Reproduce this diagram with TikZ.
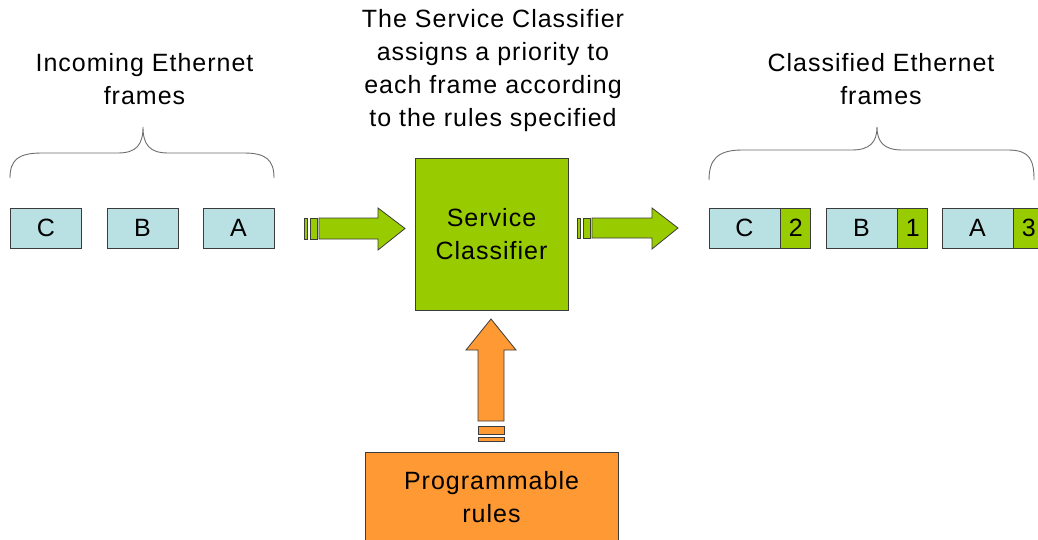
\documentclass[tikz,border=0pt]{standalone}
\usepackage{fontspec}
\setmainfont{Liberation Sans}[LetterSpace=4]
\definecolor{framefill}{HTML}{B9E0E3}
\definecolor{prio}{HTML}{99CC00}
\definecolor{rulesfill}{HTML}{FF9933}
\definecolor{edge}{HTML}{3C3C3C}
\definecolor{bracecol}{HTML}{6E6E6E}
\begin{document}
\begin{tikzpicture}[x=1pt,y=-1pt,
  font=\fontsize{25}{33}\selectfont,
  frame/.style={draw=edge, fill=framefill, line width=0.8pt,
    minimum width=71pt, minimum height=40pt, inner sep=0pt},
  tag/.style={draw=edge, fill=prio, line width=0.8pt,
    minimum width=30pt, minimum height=40pt, inner sep=0pt},
  caption/.style={align=center, inner sep=0pt, anchor=base},
  brace/.style={draw=bracecol, line width=0.9pt},
  greenarrow/.style={draw=edge, fill=prio, line width=0.8pt, line join=miter},
  orangearrow/.style={draw=edge, fill=rulesfill, line width=0.8pt, line join=miter}]

\clip (0,0) rectangle (1038,540);
\fill[white] (0,0) rectangle (1038,540);

% incoming frames
\node[frame] (inC) at (46,228) {C};
\node[frame] (inB) at (142.5,228) {B};
\node[frame] (inA) at (238.5,228) {A};

% classified frames with priority tags
\node[frame] (outC) at (744.5,228) {C};
\node[tag, anchor=west] (tagC) at (outC.east) {2};
\node[frame] (outB) at (861.5,228) {B};
\node[tag, anchor=west] (tagB) at (outB.east) {1};
\node[frame] (outA) at (977.5,228) {A};
\node[tag, anchor=west] (tagA) at (outA.east) {3};

% classifier and rules
\node[draw=edge, fill=prio, line width=0.8pt, align=center,
  minimum width=153pt, minimum height=152pt, inner sep=0pt] (sc) at (491.5,234)
  {Service\\Classifier};
\node[draw=edge, fill=rulesfill, line width=0.8pt, align=center,
  minimum width=253pt, minimum height=90pt, inner sep=0pt] (rules) at (491.5,497)
  {Programmable\\rules};

% captions (anchored at the baseline of their last line)
\node[caption] (capIn) at (144.5,105) {Incoming Ethernet\\frames};
\node[caption] (capSc) at (493,127) {The Service Classifier\\assigns a priority to\\each frame according\\to the rules specified};
\node[caption] (capOut) at (881,105) {Classified Ethernet\\frames};

% braces over the frame groups
\draw[brace] (10,178) .. controls (10,160) and (18,153) .. (42,153)
  -- (118,153) .. controls (136,153) and (143,145) .. (143,127)
  .. controls (143,145) and (150,153) .. (168,153)
  -- (244,153) .. controls (266,153) and (274,160) .. (274,178);
\draw[brace] (709,180) .. controls (709,160) and (717,150) .. (742,150)
  -- (852,150) .. controls (870,150) and (877,142) .. (877,127)
  .. controls (877,142) and (884,150) .. (902,150)
  -- (1008,150) .. controls (1030,150) and (1034,160) .. (1034,180);

% block arrow into the classifier
\filldraw[greenarrow] (304,218) rectangle (307.5,239);
\filldraw[greenarrow] (310.5,218) rectangle (317,239);
\filldraw[greenarrow] (319,218) -- (378,218) -- (378,208) -- (405,228.5)
  -- (378,250) -- (378,239) -- (319,239) -- cycle;

% block arrow out of the classifier
\filldraw[greenarrow] (577,218) rectangle (580.5,238);
\filldraw[greenarrow] (583.5,218) rectangle (590,238);
\filldraw[greenarrow] (592,218) -- (652,218) -- (652,208) -- (678,228)
  -- (652,249) -- (652,238) -- (592,238) -- cycle;

% block arrow from the rules up to the classifier
\filldraw[orangearrow] (478,426) rectangle (504,434);
\filldraw[orangearrow] (478,437) rectangle (504,441);
\filldraw[orangearrow] (478,421) -- (478,350) -- (466,350) -- (491,319)
  -- (516,350) -- (504,350) -- (504,421) -- cycle;
\end{tikzpicture}
\end{document}
